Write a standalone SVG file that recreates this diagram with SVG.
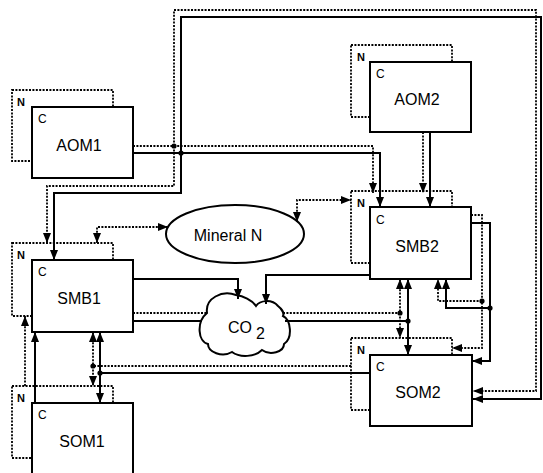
<svg xmlns="http://www.w3.org/2000/svg" width="543" height="473" viewBox="0 0 543 473">
<style>
.box{fill:#fff;stroke:#000;stroke-width:2}
.nbox{fill:none;stroke:#000;stroke-width:1.8;stroke-dasharray:2 1.4}
.s{fill:none;stroke:#000;stroke-width:2}
.d{fill:none;stroke:#000;stroke-width:1.8;stroke-dasharray:2 1.4}
.shape{fill:#fff;stroke:#000;stroke-width:2}
text{font-family:"Liberation Sans",Arial,sans-serif;fill:#000}
.lbl{font-size:16px;text-anchor:middle}
.n{font-size:11px;font-weight:bold}
.c{font-size:12px}
.dot{fill:#000}
</style>
<defs>
<marker id="a" markerUnits="userSpaceOnUse" markerWidth="10" markerHeight="8" viewBox="0 0 10 8" refX="10" refY="4" orient="auto-start-reverse">
<path d="M0,0 L10,4 L0,8 z" fill="#000"/>
</marker>
</defs>
<g id="nodes">
<g id="AOM1">
<rect class="nbox" x="12" y="90" width="101" height="71"/>
<rect class="box" x="32" y="107" width="101" height="71"/>
<text class="n" x="17" y="106">N</text>
<text class="c" x="38" y="123">C</text>
<text class="lbl" x="79" y="151">AOM1</text>
</g>
<g id="AOM2">
<rect class="nbox" x="351" y="45" width="101" height="72"/>
<rect class="box" x="370" y="62" width="101" height="70"/>
<text class="n" x="357" y="61">N</text>
<text class="c" x="376" y="78">C</text>
<text class="lbl" x="417" y="105">AOM2</text>
</g>
<g id="SMB1">
<rect class="nbox" x="12" y="243" width="101" height="73"/>
<rect class="box" x="32" y="260" width="101" height="72"/>
<text class="n" x="17" y="259">N</text>
<text class="c" x="38" y="276">C</text>
<text class="lbl" x="79" y="304">SMB1</text>
</g>
<g id="SMB2">
<rect class="nbox" x="351" y="191" width="101" height="72"/>
<rect class="box" x="370" y="207" width="101" height="72"/>
<text class="n" x="357" y="207">N</text>
<text class="c" x="376" y="224">C</text>
<text class="lbl" x="417" y="252">SMB2</text>
</g>
<g id="SOM1">
<rect class="nbox" x="12" y="386" width="101" height="72"/>
<rect class="box" x="32" y="403" width="101" height="80"/>
<text class="n" x="17" y="402">N</text>
<text class="c" x="38" y="419">C</text>
<text class="lbl" x="82" y="447">SOM1</text>
</g>
<g id="SOM2">
<rect class="nbox" x="351" y="338" width="101" height="72"/>
<rect class="box" x="370" y="355" width="102" height="71"/>
<text class="n" x="357" y="354">N</text>
<text class="c" x="376" y="371">C</text>
<text class="lbl" x="418" y="398">SOM2</text>
</g>
<g id="MineralN">
<ellipse class="shape" cx="235" cy="234" rx="69" ry="29"/>
<text class="lbl" x="228" y="241">Mineral N</text>
</g>
<g id="CO2">
<path class="shape" d="M207,313 C205,298 222,290 236,295 C243,296 252,300 256,306 C260,300 272,299 278,306 C283,310 284,314 283,316 C291,320 293,338 284,344 C284,352 270,356 262,350 C255,357 240,358 232,352 C222,358 208,352 208,344 C198,342 196,322 207,313 Z"/>
<text style="font-size:16px" x="228" y="333">CO<tspan dx="4" dy="6">2</tspan></text>
</g>
</g>
<g id="connectors">
<path class="d" d="M133,146 H373 V193" marker-end="url(#a)"/>
<path class="d" d="M174,146 V10 H536 V391 H473" marker-end="url(#a)"/>
<path class="d" d="M174,146 V186 H47 V243" marker-end="url(#a)"/>
<path class="s" d="M133,153 H380 V207" marker-end="url(#a)"/>
<path class="s" d="M181,153 V17 H541 V399 H473" marker-end="url(#a)"/>
<path class="s" d="M181,153 V193 H54 V260" marker-end="url(#a)"/>
<path class="d" d="M423,132 V193" marker-end="url(#a)"/>
<path class="s" d="M430,132 V207" marker-end="url(#a)"/>
<path class="d" d="M97,243 V227 H168" marker-start="url(#a)" marker-end="url(#a)"/>
<path class="d" d="M297,222 V200 H351" marker-start="url(#a)" marker-end="url(#a)"/>
<path class="s" d="M133,279 H238 V299" marker-end="url(#a)"/>
<path class="s" d="M370,275 H266 V304" marker-end="url(#a)"/>
<path class="d" d="M133,313 H207 M283,313 H400"/>
<path class="s" d="M133,321 H202 M285,321 H408"/>
<path class="d" d="M400,279 V338" marker-start="url(#a)" marker-end="url(#a)"/>
<path class="s" d="M408,279 V355" marker-start="url(#a)" marker-end="url(#a)"/>
<path class="d" d="M351,366 H93"/>
<path class="s" d="M370,373 H100"/>
<path class="d" d="M93,332 V386" marker-start="url(#a)" marker-end="url(#a)"/>
<path class="s" d="M100,332 V403" marker-start="url(#a)" marker-end="url(#a)"/>
<path class="d" d="M25,386 V316" marker-end="url(#a)"/>
<path class="s" d="M35,403 V332" marker-end="url(#a)"/>
<path class="d" d="M471,215 H482 V348 H452" marker-end="url(#a)"/>
<path class="s" d="M471,223 H490 V361 H472" marker-end="url(#a)"/>
<path class="d" d="M482,301 H438 V279" marker-end="url(#a)"/>
<path class="s" d="M490,308 H446 V279" marker-end="url(#a)"/>
<circle class="dot" cx="174" cy="146" r="2.6"/>
<circle class="dot" cx="181" cy="153" r="2.6"/>
<circle class="dot" cx="400" cy="313" r="2.6"/>
<circle class="dot" cx="408" cy="321" r="2.6"/>
<circle class="dot" cx="93" cy="366" r="2.6"/>
<circle class="dot" cx="100" cy="373" r="2.6"/>
<circle class="dot" cx="482" cy="301" r="2.6"/>
<circle class="dot" cx="490" cy="308" r="2.6"/>
</g>
</svg>
